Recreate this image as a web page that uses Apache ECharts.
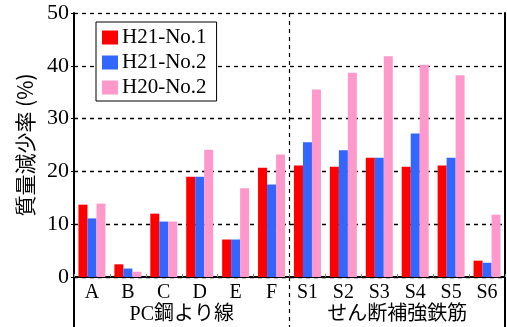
<!DOCTYPE html>
<html><head><meta charset="utf-8">
<script src="https://cdn.jsdelivr.net/npm/echarts@6/dist/echarts.min.js"></script>
<style>html,body{margin:0;padding:0;background:#fff}#c{width:507px;height:327px}</style>
</head><body><div id="c"></div>
<script>
const categories = ['A','B','C','D','E','F','S1','S2','S3','S4','S5','S6'];
const groupLabels = ['PC鋼より線','せん断補強鉄筋'];
const seriesNames = ['H21-No.1','H21-No.2','H20-No.2'];
const h21no1 = [13.7, 2.4, 12.0, 19.0, 7.1, 20.7, 21.1, 20.9, 22.6, 20.9, 21.1, 3.1];
const h21no2 = [11.1, 1.6, 10.5, 19.0, 7.1, 17.5, 25.5, 24.0, 22.6, 27.2, 22.6, 2.7];
const h20no2 = [13.9, 1.0, 10.5, 24.1, 16.8, 23.2, 35.5, 38.7, 41.8, 40.2, 38.2, 11.8];
const yTicks = [0, 10, 20, 30, 40, 50];
const colors = ['#ff0000', '#3366ff', '#ff99cc'];

const SERIF = '"Liberation Serif","Times New Roman","Noto Sans CJK JP",serif';
const G = {left: 74, right: 2, top: 13, bottom: 50};
const W = 507, H = 327;

const chart = echarts.init(document.getElementById('c'), null, {renderer: 'canvas'});
const values = [h21no1, h21no2, h20no2];

chart.setOption({
  animation: false,
  backgroundColor: '#fff',
  grid: {left: G.left, right: G.right, top: G.top, bottom: G.bottom},
  legend: {
    orient: 'vertical', left: 96, top: 22,
    itemWidth: 16, itemHeight: 14, itemGap: 4,
    padding: [5, 10, 3, 6],
    backgroundColor: '#fff', borderColor: '#000', borderWidth: 1,
    icon: 'rect',
    textStyle: {fontFamily: SERIF, fontSize: 21, color: '#000', lineHeight: 21, padding: [0,0,0,-1]},
    data: seriesNames
  },
  xAxis: [{
    type: 'category', data: categories, position: 'bottom',
    axisLine: {lineStyle: {color: '#000', width: 2}},
    axisTick: {show: true, inside: true, length: 3, lineStyle: {color: '#888'}},
    axisLabel: {fontFamily: SERIF, fontSize: 20, color: '#000', margin: 6},
    splitLine: {show: false}
  }, {
    type: 'category', data: categories, position: 'top',
    axisLine: {lineStyle: {color: '#000', width: 2}},
    axisTick: {show: false}, axisLabel: {show: false}
  }],
  yAxis: [{
    type: 'value', min: 0, max: 50, interval: 10,
    name: '質量減少率 (%)', nameLocation: 'middle', nameGap: 38,
    nameTextStyle: {fontFamily: '"Noto Sans CJK JP", sans-serif', fontSize: 21, color: '#000'},
    axisLine: {show: true, lineStyle: {color: '#000', width: 2}},
    axisTick: {show: true, length: 3, lineStyle: {color: '#000'}},
    axisLabel: {fontFamily: SERIF, fontSize: 22, color: '#000', margin: 5,
      formatter: v => yTicks.includes(v) ? String(v) : ''},
    splitLine: {show: true, lineStyle: {color: '#000', type: [4, 4], width: 1.3}}
  }, {
    type: 'value', min: 0, max: 50, interval: 10, position: 'right',
    axisLine: {show: true, lineStyle: {color: '#000', width: 2}},
    axisTick: {show: false}, axisLabel: {show: false}, splitLine: {show: false}
  }],
  series: seriesNames.map((n, i) => ({
    name: n, type: 'bar', data: values[i], barWidth: 9, barGap: '0%',
    itemStyle: {color: colors[i]}
  }))
});

// extra frame and divider lines / group labels
const pF = chart.convertToPixel({xAxisIndex: 0}, 'F');
const pS1 = chart.convertToPixel({xAxisIndex: 0}, 'S1');
const pA = chart.convertToPixel({xAxisIndex: 0}, 'A');
const pS6 = chart.convertToPixel({xAxisIndex: 0}, 'S6');
const step = pS1 - pF;
const divX = (pF + pS1) / 2;
const leftX = pA - step / 2, rightX = pS6 + step / 2;
const bottomY = H - G.bottom;
chart.setOption({
  graphic: [
    {type: 'line', shape: {x1: leftX, y1: bottomY, x2: leftX, y2: H}, style: {stroke: '#000', lineWidth: 2}},
    {type: 'line', shape: {x1: rightX, y1: bottomY, x2: rightX, y2: H}, style: {stroke: '#000', lineWidth: 2}},
    {type: 'line', z: 1, shape: {x1: divX, y1: G.top, x2: divX, y2: H}, style: {stroke: '#000', lineWidth: 1.2, lineDash: [4, 4]}},
    {type: 'text', x: (leftX + divX) / 2, y: 315, style: {text: groupLabels[0], fontFamily: SERIF, fontSize: 20, fill: '#000', align: 'center', verticalAlign: 'middle'}},
    {type: 'text', x: (divX + rightX) / 2, y: 315, style: {text: groupLabels[1], fontFamily: SERIF, fontSize: 20, fill: '#000', align: 'center', verticalAlign: 'middle'}}
  ]
});
</script></body></html>
